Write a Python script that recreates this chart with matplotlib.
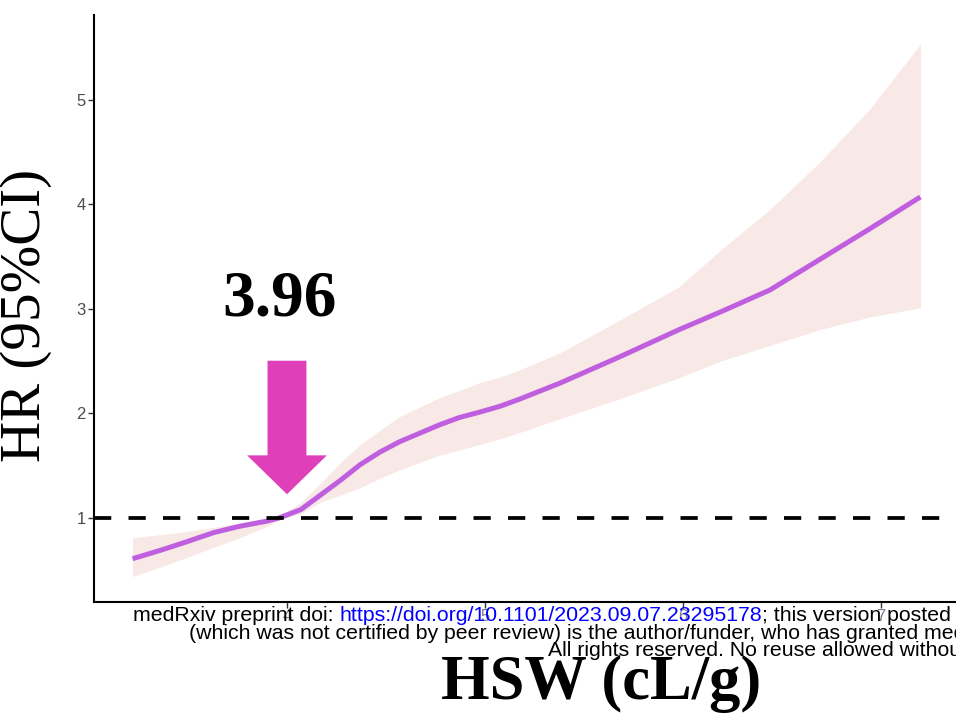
import matplotlib.pyplot as plt

# HSW (cL/g) vs hazard ratio with 95% CI
hsw = [3.22, 3.36, 3.49, 3.63, 3.76, 3.90, 3.96, 4.07, 4.17, 4.27, 4.37, 4.47, 4.57, 4.67,
       4.77, 4.87, 4.97, 5.08, 5.18, 5.38, 5.68, 5.98, 6.19, 6.44, 6.69, 6.94, 7.20]
hr = [0.61, 0.69, 0.77, 0.86, 0.92, 0.97, 1.00, 1.08, 1.22, 1.36, 1.51, 1.63, 1.73, 1.81,
      1.89, 1.96, 2.01, 2.07, 2.14, 2.29, 2.54, 2.80, 2.97, 3.18, 3.47, 3.76, 4.07]
hr_upper = [0.81, 0.84, 0.87, 0.91, 0.95, 0.99, 1.01, 1.15, 1.33, 1.53, 1.70, 1.84, 1.97, 2.06,
            2.15, 2.22, 2.29, 2.35, 2.42, 2.58, 2.89, 3.21, 3.56, 3.95, 4.40, 4.90, 5.53]
hr_lower = [0.44, 0.53, 0.62, 0.72, 0.81, 0.92, 0.98, 1.04, 1.15, 1.22, 1.29, 1.38, 1.46, 1.53,
            1.60, 1.65, 1.70, 1.76, 1.82, 1.95, 2.14, 2.34, 2.50, 2.65, 2.80, 2.92, 3.01]

xticks = [4, 5, 6, 7]
yticks = [1, 2, 3, 4, 5]
cutoff = 3.96

fig = plt.figure(figsize=(9.56, 7.22), dpi=100)
ax = fig.add_axes([94 / 956, 1 - 602 / 722, 1 - 94 / 956, (602 - 15) / 722])

ax.fill_between(hsw, hr_lower, hr_upper, color='#F8E8E6', lw=0)
ax.plot(hsw, hr, color='#BF5FE0', lw=3.6, solid_capstyle='butt', solid_joinstyle='round')
ax.axhline(1, color='black', lw=2.7, linestyle=(0, (4.6, 4.6)))

ax.set_xlim(3.025, 7.38)
ax.set_ylim(0.196, 5.81)
ax.set_xticks(xticks)
ax.set_yticks(yticks)
ax.tick_params(axis='both', colors='#333333', labelsize=12, length=4, width=1)
ax.tick_params(axis='y', pad=2, labelcolor='#4D4D4D')
ax.tick_params(axis='x', pad=1, labelcolor='#7A7A8C')
for lab in ax.get_xticklabels() + ax.get_yticklabels():
    lab.set_family('Liberation Sans')
for s in ['top', 'right']:
    ax.spines[s].set_visible(False)
for s in ['left', 'bottom']:
    ax.spines[s].set_linewidth(1.5)

# cutoff label and arrow
ax.text(cutoff, 3.09, f'{cutoff:.2f}', ha='center', va='center',
        fontsize=47, fontweight='bold', family='Liberation Serif')
ax.annotate('', xy=(cutoff + 0.04, 1.2), xytext=(cutoff + 0.04, 2.53),
            arrowprops=dict(arrowstyle='simple,head_length=1.0,head_width=2.05,tail_width=1.0',
                            mutation_scale=28, color='#E03FBA', lw=0))

fig.text(26 / 956, 1 - 315 / 722, 'HR (95%CI)', rotation=90, ha='center', va='center',
         fontsize=41, family='Liberation Serif')
fig.text(601 / 956, 1 - 684 / 722, 'HSW (cL/g)', ha='center', va='center',
         fontsize=45, fontweight='bold', family='Liberation Serif')

# medRxiv watermark lines
wm = dict(fontsize=15.3, family='Liberation Sans', va='baseline', ha='left')
t1 = fig.text(133 / 956, 1 - 621 / 722, 'medRxiv preprint doi: ', color='black', **wm)
a2 = ax.annotate('https://doi.org/10.1101/2023.09.07.23295178', xy=(1, 0), xycoords=t1,
                 va='bottom', ha='left', color='#0000FF', fontsize=15.3,
                 family='Liberation Sans', annotation_clip=False)
ax.annotate('; this version posted September 8, 2023. The copyright holder for this preprint',
            xy=(1, 0), xycoords=a2, va='bottom', ha='left', color='black', fontsize=15.3,
            family='Liberation Sans', annotation_clip=False)
fig.text(189 / 956, 1 - 639 / 722,
         '(which was not certified by peer review) is the author/funder, who has granted '
         'medRxiv a license to display the preprint in perpetuity.', color='black', **wm)
fig.text(548 / 956, 1 - 656 / 722, 'All rights reserved. No reuse allowed without permission.',
         color='black', **wm)

fig.savefig('out.png', dpi=100)
